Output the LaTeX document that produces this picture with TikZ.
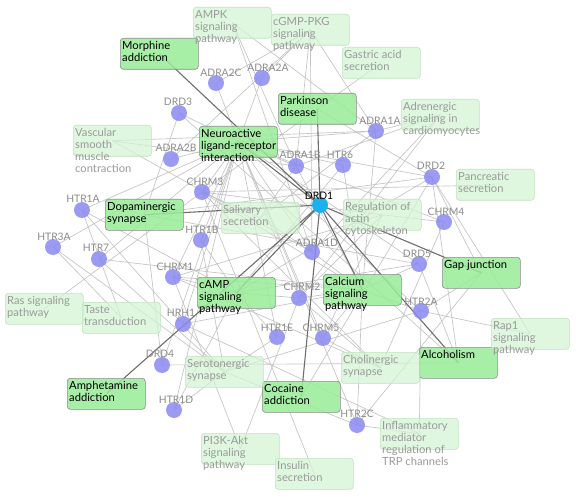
\documentclass[tikz,border=0pt]{standalone}
\usepackage{fontspec}
\setmainfont{Lato}
\usetikzlibrary{backgrounds}
\definecolor{edgegray}{HTML}{C4C4C4}
\definecolor{edgedark}{HTML}{6E6E6E}
\definecolor{genefill}{HTML}{8A8AF2}
\definecolor{hubfill}{HTML}{1CB0EE}
\definecolor{enrfill}{HTML}{98EC98}
\definecolor{litefill}{HTML}{D2F5D2}
\definecolor{liteborder}{HTML}{BFE3BF}
\definecolor{enrborder}{HTML}{8C8C8C}
\definecolor{litetextc}{HTML}{9A9A9A}
\definecolor{genetextc}{HTML}{8C8C8C}
\tikzset{
  gene/.style={circle, fill=genefill, fill opacity=0.85, draw=none, minimum size=16pt, inner sep=0pt},
  hub/.style={circle, fill=hubfill, draw=none, minimum size=16pt, inner sep=0pt},
  glabel/.style={font=\fontsize{10.3}{12}\selectfont, text=genetextc, inner sep=0pt},
  hlabel/.style={font=\fontsize{10.3}{12}\selectfont, text=black, inner sep=0pt},
  enrbox/.style={rectangle, rounded corners=3pt, draw=enrborder, fill=enrfill, fill opacity=0.85, minimum width=78pt, minimum height=31pt, inner sep=0pt, anchor=north west, line width=0.6pt},
  litebox/.style={rectangle, rounded corners=3pt, draw=liteborder, fill=litefill, fill opacity=0.7, minimum width=78pt, minimum height=31pt, inner sep=0pt, anchor=north west, line width=0.6pt},
  enrtext/.style={font=\fontsize{11.2}{12}\selectfont, align=left, anchor=north west, inner sep=0pt, text=black},
  litetext/.style={font=\fontsize{11.2}{12}\selectfont, align=left, anchor=north west, inner sep=0pt, text=litetextc},
  gedge/.style={draw=edgegray, line width=0.65pt},
  dedge/.style={draw=edgedark, line width=1.1pt},
}
\begin{document}
\begin{tikzpicture}[x=1pt,y=-1pt]
\useasboundingbox (0,0) rectangle (576,500);
% pathway boxes (enriched)
\foreach \n/\x/\y/\t in {
  MOR/120/38/{Morphine\\addiction},
  PARK/278/93/{Parkinson\\disease},
  NLR/199/126/{Neuroactive\\ligand-receptor\\interaction},
  DOP/105/199/{Dopaminergic\\synapse},
  GAP/442/257/{Gap junction},
  CAMP/197/277/{cAMP\\signaling\\pathway},
  CALC/323/274/{Calcium\\signaling\\pathway},
  ALC/419/347/{Alcoholism},
  AMPH/67/378/{Amphetamine\\addiction},
  COC/262/381/{Cocaine\\addiction}}{
  \node[enrbox] (\n) at (\x,\y) {};
}
% pathway boxes (other)
\foreach \n/\x/\y/\t in {
  AMPK/193/7/{AMPK\\signaling\\pathway},
  CGMP/271/14/{cGMP-PKG\\signaling\\pathway},
  GAS/342/47/{Gastric acid\\secretion},
  ADR/401/99/{Adrenergic\\signaling in\\cardiomyocytes},
  VSM/73/125/{Vascular\\smooth\\muscle\\contraction},
  PAN/456/169/{Pancreatic\\secretion},
  SAL/221/202/{Salivary\\secretion},
  ACT/343/199/{Regulation of\\actin\\cytoskeleton},
  RAS/5/293/{Ras signaling\\pathway},
  TASTE/82/302/{Taste\\transduction},
  RAP/491/318/{Rap1\\signaling\\pathway},
  SER/185/356/{Serotonergic\\synapse},
  CHOL/341/352/{Cholinergic\\synapse},
  PIK/201/433/{PI3K-Akt\\signaling\\pathway},
  INS/275/458/{Insulin\\secretion},
  TRP/380/418/{Inflammatory\\mediator\\regulation of\\TRP channels}}{
  \node[litebox] (\n) at (\x,\y) {};
  \node[litetext] (\n-t) at (\x+2,\y+3) {\t};
}
\foreach \n/\x/\y/\t in {
  MOR/120/38/{Morphine\\addiction},
  PARK/278/93/{Parkinson\\disease},
  NLR/199/126/{Neuroactive\\ligand-receptor\\interaction},
  DOP/105/199/{Dopaminergic\\synapse},
  GAP/442/257/{Gap junction},
  CAMP/197/277/{cAMP\\signaling\\pathway},
  CALC/323/274/{Calcium\\signaling\\pathway},
  ALC/419/347/{Alcoholism},
  AMPH/67/378/{Amphetamine\\addiction},
  COC/262/381/{Cocaine\\addiction}}{
  \node[enrtext] (\n-t) at (\x+2,\y+3) {\t};
}
% genes
\foreach \g/\x/\y/\lx/\ly in {
  ADRA2C/216/83/221/73, ADRA2A/262/78/268/68, DRD3/179/113/178/102,
  ADRA2B/171/159/176/148, ADRA1A/376/131/380/121, ADRA1B/296/166/300/155,
  HTR6/343/165/340/155, DRD2/432/177/431/166, CHRM3/202/192/205/182,
  HTR1A/82/210/83/199, HTR3A/53/247/54/237, HTR7/99/259/96/248,
  HTR1B/201/240/202/230, CHRM1/173/277/175/267, ADRA1D/312/252/317/243,
  CHRM4/444/222/446/212, DRD5/419/264/417/254, HTR2A/421/311/421/302,
  CHRM2/299/298/302/287, HRH1/183/324/181/313, HTR1E/277/337/277/328,
  CHRM5/323/338/321/328, DRD4/162/365/160/354, HTR1D/174/410/176/400,
  HTR2C/357/425/357/414}{
  \node[gene] (\g) at (\x,\y) {};
  \node[glabel] (\g-l) at (\lx,\ly) {\g};
}
\node[hub] (DRD1) at (320,205) {};
\node[hlabel] (DRD1-l) at (319,196) {DRD1};
% edges
\begin{scope}[on background layer]
\fill[white] (0,0) rectangle (576,500);
\foreach \p/\g in {
  NLR/DRD2, NLR/DRD3, NLR/DRD4, NLR/DRD5, NLR/HTR1A, NLR/HTR1B, NLR/HTR1D,
  NLR/HTR1E, NLR/HTR2A, NLR/HTR2C, NLR/HTR3A, NLR/HTR6, NLR/HTR7, NLR/ADRA1A,
  NLR/ADRA1B, NLR/ADRA1D, NLR/ADRA2A, NLR/ADRA2B, NLR/ADRA2C, NLR/CHRM1,
  NLR/CHRM2, NLR/CHRM3, NLR/CHRM4, NLR/CHRM5, NLR/HRH1,
  DOP/DRD2, DOP/DRD3, DOP/DRD4, DOP/DRD5,
  ALC/DRD2, ALC/DRD3, ALC/DRD4, ALC/DRD5,
  COC/DRD2, PARK/DRD2,
  CAMP/DRD2, CAMP/DRD5, CAMP/HTR1A, CAMP/HTR1B, CAMP/HTR1D, CAMP/HTR1E,
  CAMP/HTR6, CAMP/CHRM1, CAMP/CHRM2,
  CALC/DRD5, CALC/HTR2A, CALC/HTR2C, CALC/HTR6, CALC/HTR7, CALC/ADRA1A,
  CALC/ADRA1B, CALC/ADRA1D, CALC/CHRM1, CALC/CHRM2, CALC/CHRM3, CALC/CHRM5,
  CALC/HRH1,
  GAP/DRD2, GAP/HTR2A, GAP/HTR2C,
  CHOL/CHRM1, CHOL/CHRM2, CHOL/CHRM3, CHOL/CHRM4, CHOL/CHRM5,
  ACT/CHRM1, ACT/CHRM2, ACT/CHRM3, ACT/CHRM4, ACT/CHRM5,
  PIK/CHRM1, PIK/CHRM2, INS/CHRM3,
  SAL/ADRA1A, SAL/ADRA1B, SAL/ADRA1D, SAL/CHRM3,
  PAN/CHRM3, GAS/CHRM3,
  VSM/ADRA1A, VSM/ADRA1B, VSM/ADRA1D,
  ADR/ADRA1A, ADR/ADRA1B, ADR/ADRA1D, ADR/CHRM2,
  CGMP/ADRA1A, CGMP/ADRA1B, CGMP/ADRA1D, CGMP/ADRA2A, CGMP/ADRA2B, CGMP/ADRA2C,
  AMPK/ADRA1A, AMPK/ADRA1B, AMPK/ADRA1D,
  RAP/DRD2, RAP/HTR2A, RAS/CHRM3,
  TASTE/HTR3A, TASTE/HTR1A,
  SER/HTR1A, SER/HTR1B, SER/HTR1D, SER/HTR1E, SER/HTR2A, SER/HTR2C,
  SER/HTR3A, SER/HTR7,
  TRP/HTR2A, TRP/HTR2C, TRP/HRH1}{
  \draw[gedge] (\p.center) -- (\g.center);
}
\foreach \p in {MOR, PARK, NLR, DOP, GAP, CAMP, CALC, ALC, AMPH, COC}{
  \draw[dedge] (\p.center) -- (DRD1.center);
}
\end{scope}
\end{tikzpicture}
\end{document}
